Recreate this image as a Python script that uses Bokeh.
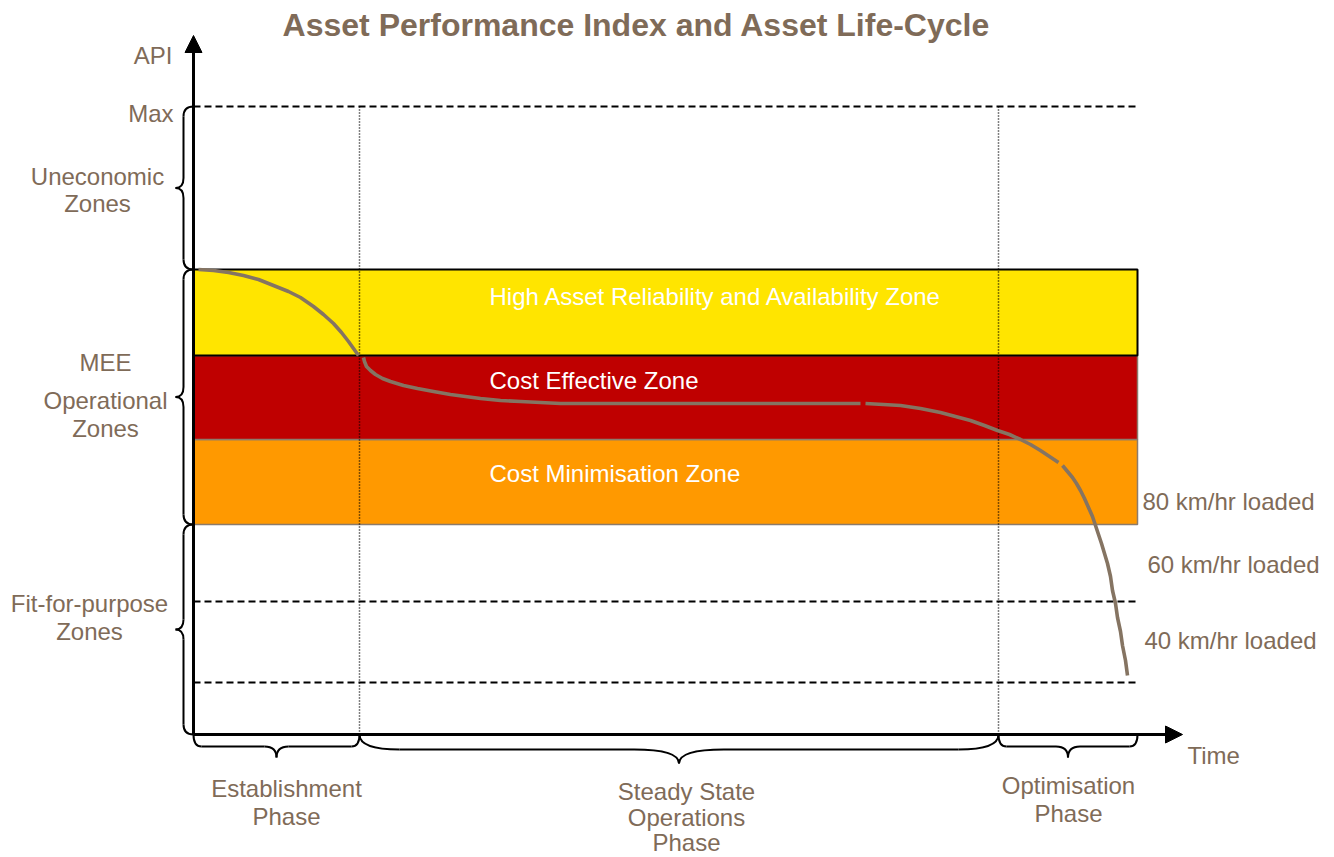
from bokeh.plotting import figure
from bokeh.models import Range1d, Arrow, NormalHead
from bokeh.core.properties import value
from bokeh.embed import file_html
from bokeh.resources import INLINE

# ---------------- data (time units along x, API units along y) ----------------
TIME_END = 944          # right end of the zones / dashed lines
TIME_ARROW = 989        # tip of the time axis arrow
API_ARROW = 699         # tip of the API axis arrow
API_MAX = 628           # "Max" level

phase_bounds = [0, 166, 805, 944]
phase_labels = [["Establishment", "Phase"],
                ["Steady State", "Operations", "Phase"],
                ["Optimisation", "Phase"]]
phase_label_t = [93, 493, 875]
phase_label_api = [[-54, -82], [-57, -83, -108], [-51, -79]]
phase_brace_line = [-12, -15, -12]
phase_brace_tip = [-23, -29, -23]
phase_brace_end_r = [8, 40, 8]
phase_brace_tip_r = [12, 45, 12]

zone_names = ["Cost Minimisation Zone", "Cost Effective Zone",
              "High Asset Reliability and Availability Zone"]
zone_bottom = [210, 295, 379]
zone_top = [295, 379, 465]
zone_colors = ["#FF9900", "#BF0000", "#FFE500"]
zone_outline = ["#8C7B6B", "#8C7B6B", "black"]
zone_label_api = [261, 354, 438]
zone_label_t = 296

speed_lines = [133, 52]
speed_labels = ["80 km/hr loaded", "60 km/hr loaded", "40 km/hr loaded"]
speed_label_t = [949, 954, 951]
speed_label_api = [233, 170, 94]

api_groups_top = [628, 465, 210]
api_groups_bottom = [465, 210, 0]
api_group_labels = [["Uneconomic", "Zones"],
                    ["MEE", "Operational", "Zones"],
                    ["Fit-for-purpose", "Zones"]]
api_group_label_t = [-96, -88, -104]
api_group_label_api = [[558, 531], [372, 334, 306], [131, 103]]

# API curve (four drawn pieces)
curve_t = [
    [5, 20, 35, 50, 65, 80, 95, 107, 120, 130, 140, 148, 155, 160, 165],
    [170, 171, 173, 177, 182, 189, 197, 210, 224, 240, 257, 272, 287, 307, 327, 347, 367, 667],
    [672, 690, 707, 727, 747, 762, 777, 791, 804, 816, 827, 837, 847, 856, 865],
    [869, 874, 879, 883, 887, 891, 895, 899, 902, 905, 908, 911, 914, 917, 919, 922, 924, 927, 929, 932, 934],
]
curve_api = [
    [465, 464, 462, 459, 455, 449, 443, 437, 428, 420, 411, 402, 393, 386, 379],
    [377, 373, 368, 364, 360, 356, 353, 349, 346, 343, 340, 338, 336, 334, 333, 332, 331, 331],
    [331, 330, 329, 326, 322, 318, 314, 309, 304, 300, 295, 290, 284, 278, 272],
    [269, 263, 257, 251, 244, 236, 227, 218, 209, 200, 191, 181, 171, 158, 144, 131, 117, 103, 89, 74, 59],
]

TEXT = "#7F6B58"
CURVE = "#857462"
FONT = value("Liberation Sans")
FS = value("24px")

# ---------------- figure ----------------
p = figure(width=1334, height=857, x_range=Range1d(-193, 1141), y_range=Range1d(-123, 734),
           output_backend="svg", toolbar_location=None, min_border=0,
           x_axis_type=None, y_axis_type=None)
p.grid.visible = False
p.outline_line_color = None
p.background_fill_color = "white"
p.border_fill_color = "white"

# zones
for b, t, c, o in zip(zone_bottom, zone_top, zone_colors, zone_outline):
    p.quad(left=0, right=TIME_END, bottom=b, top=t, fill_color=c,
           line_color=o, line_width=2 if o == "black" else 1.5)

# dashed level lines
for lvl in [API_MAX] + speed_lines:
    p.line([0, TIME_END], [lvl, lvl], line_color="black", line_width=1.8, line_dash="7 4")

# dotted phase dividers
for b in phase_bounds[1:3]:
    p.line([b, b], [0, API_MAX], line_color="black", line_width=1.5, line_dash="1 2")

# curve
p.multi_line(curve_t, curve_api, line_color=CURVE, line_width=3.6, line_join="round")

# axes with arrows
p.add_layout(Arrow(end=NormalHead(size=17, fill_color="black", line_color="black"),
                   x_start=0, y_start=0, x_end=0, y_end=API_ARROW,
                   line_color="black", line_width=3))
p.add_layout(Arrow(end=NormalHead(size=17, fill_color="black", line_color="black"),
                   x_start=0, y_start=0, x_end=TIME_ARROW, y_end=0,
                   line_color="black", line_width=3))

# braces
qx0, qy0, qx1, qy1, qcx, qcy = [], [], [], [], [], []
sx0, sy0, sx1, sy1 = [], [], [], []


def add_q(a, b, c):
    qx0.append(a[0]); qy0.append(a[1])
    qx1.append(b[0]); qy1.append(b[1])
    qcx.append(c[0]); qcy.append(c[1])


def add_s(a, b):
    sx0.append(a[0]); sy0.append(a[1]); sx1.append(b[0]); sy1.append(b[1])


# bottom (time) braces
for i in range(3):
    xa, xb = phase_bounds[i], phase_bounds[i + 1]
    yl, yt = phase_brace_line[i], phase_brace_tip[i]
    re, rt = phase_brace_end_r[i], phase_brace_tip_r[i]
    xm = (xa + xb) / 2
    add_q((xa, 0), (xa + re, yl), (xa, yl))
    add_s((xa + re, yl), (xm - rt, yl))
    add_q((xm - rt, yl), (xm, yt), (xm, yl))
    add_q((xm + rt, yl), (xm, yt), (xm, yl))
    add_s((xm + rt, yl), (xb - re, yl))
    add_q((xb, 0), (xb - re, yl), (xb, yl))

# left (API) braces
XL, XT, R = -10, -18, 10
for ya, yb in zip(api_groups_top, api_groups_bottom):
    ym = (ya + yb) / 2
    add_q((0, ya), (XL, ya - R), (XL, ya))
    add_s((XL, ya - R), (XL, ym + R))
    add_q((XL, ym + R), (XT, ym), (XL, ym))
    add_q((XL, ym - R), (XT, ym), (XL, ym))
    add_s((XL, ym - R), (XL, yb + R))
    add_q((0, yb), (XL, yb + R), (XL, yb))

p.quadratic(x0=qx0, y0=qy0, x1=qx1, y1=qy1, cx=qcx, cy=qcy, line_color="black", line_width=2)
p.segment(x0=sx0, y0=sy0, x1=sx1, y1=sy1, line_color="black", line_width=2)


def txt(x, y, s, align="center", color=TEXT, size=FS, style="normal"):
    p.text(x=[x], y=[y], text=[s], text_font=FONT, text_font_size=size,
           text_color=color, text_align=align, text_baseline="middle",
           text_font_style=style)


# title
txt(443, 710, "Asset Performance Index and Asset Life-Cycle", size=value("32px"), style="bold")

# axis labels
txt(-21, 679, "API", align="right")
txt(-20, 621, "Max", align="right")
txt(TIME_ARROW + 5, -21, "Time", align="left")

for lines, tx, ys in zip(api_group_labels, api_group_label_t, api_group_label_api):
    for s, y in zip(lines, ys):
        txt(tx, y, s)

for lines, tx, ys in zip(phase_labels, phase_label_t, phase_label_api):
    for s, y in zip(lines, ys):
        txt(tx, y, s)

for s, y in zip(zone_names, zone_label_api):
    txt(zone_label_t, y, s, align="left", color="white")

for s, tx, y in zip(speed_labels, speed_label_t, speed_label_api):
    txt(tx, y, s, align="left")

open("out.html", "w").write(file_html(p, INLINE))
